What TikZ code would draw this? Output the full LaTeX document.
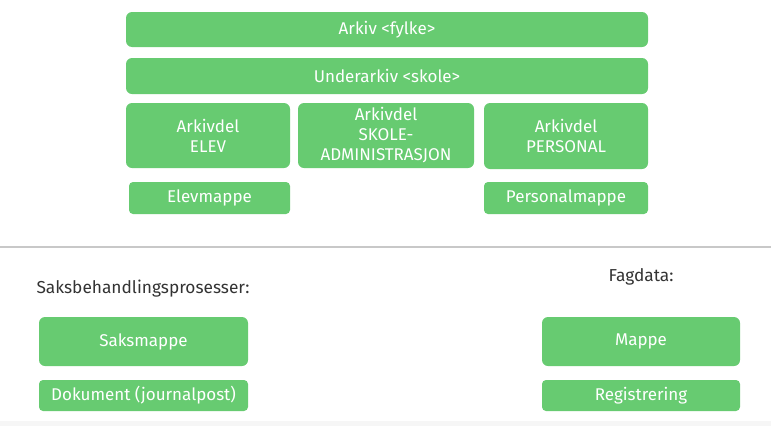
\documentclass[tikz,border=0pt]{standalone}
\usepackage{fontspec}
\setmainfont{Fira Sans}
\definecolor{boxgreen}{RGB}{103,203,113}
\definecolor{rulegray}{RGB}{200,200,200}
\definecolor{bandgray}{RGB}{246,246,246}
\tikzset{
    box/.style={fill=boxgreen, rounded corners=6pt, text=white, align=center, inner sep=0pt, font=\fontsize{17}{20}\selectfont},
    smallbox/.style={box, rounded corners=4pt},
    heading/.style={font=\fontsize{17.3}{18}\selectfont, text=black!80}
}
\begin{document}
\begin{tikzpicture}[x=1pt, y=-1pt]
    \useasboundingbox (0,0) rectangle (771,426);
    \fill[bandgray] (0,421) rectangle (771,426);

    %(a)
    \node[box, minimum width=522pt, minimum height=35pt] (arkiv) at (387, 29.5) {Arkiv <fylke>};
    \node[box, minimum width=522pt, minimum height=36pt] (underarkiv) at (387, 76) {Underarkiv <skole>};
    \node[box, minimum width=164pt, minimum height=65pt] (elev) at (208, 135.5) {Arkivdel\\ELEV};
    \node[box, minimum width=176pt, minimum height=65pt] (skole) at (386, 135.5) {Arkivdel\\SKOLE-\\ADMINISTRASJON};
    \node[box, minimum width=164pt, minimum height=66pt] (personal) at (566, 136) {Arkivdel\\PERSONAL};
    \node[smallbox, minimum width=161pt, minimum height=32pt] (elevmappe) at (209.5, 198) {Elevmappe};
    \node[smallbox, minimum width=164pt, minimum height=32pt] (personalmappe) at (566, 198) {Personalmappe};

    %(b)
    \coordinate (L) at (0, 247);
    \coordinate (R) at (771, 247);
    \draw[rulegray, line width=2pt] (L) -- (R);

    %(c)
    \node[heading, anchor=west] (saks) at (33, 289) {Saksbehandlingsprosesser:};
    \node[heading] (fag) at (641, 277) {Fagdata:};
    \node[box, minimum width=209pt, minimum height=49pt] (saksmappe) at (143.5, 341.5) {Saksmappe};
    \node[box, minimum width=198pt, minimum height=49pt] (mappe) at (641, 341.5) {Mappe};
    \node[smallbox, minimum width=209pt, minimum height=31pt] (dokument) at (143.5, 395.5) {Dokument (journalpost)};
    \node[smallbox, minimum width=198pt, minimum height=31pt] (registrering) at (641, 395.5) {Registrering};
\end{tikzpicture}
\end{document}
